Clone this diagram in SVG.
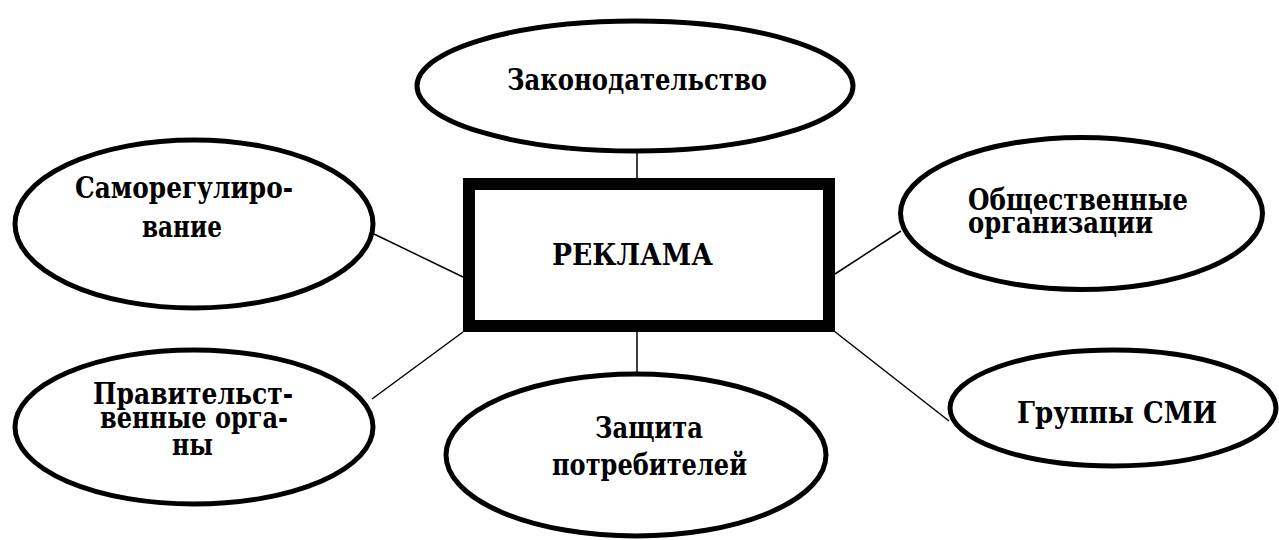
<svg xmlns="http://www.w3.org/2000/svg" width="1279" height="540" viewBox="0 0 1279 540">
<style>
.ell{fill:#fff;stroke:#000;stroke-width:5}
.box{fill:#fff;stroke:#000;stroke-width:12}
.con{stroke:#000;stroke-width:1.5;fill:none}
.t{font-family:"DejaVu Serif","Liberation Serif",serif;font-weight:700;font-size:29px;fill:#000}
.c{text-anchor:middle}
</style>
<rect width="1279" height="540" fill="#fff"/>
<g id="connectors">
<line class="con" x1="637" y1="152" x2="637" y2="178"/>
<line class="con" x1="637" y1="332" x2="637" y2="374"/>
<line class="con" x1="374" y1="234" x2="463" y2="277"/>
<line class="con" x1="372" y1="399" x2="463" y2="332"/>
<line class="con" x1="835" y1="274" x2="901" y2="231"/>
<line class="con" x1="834" y1="331" x2="949" y2="421"/>
</g>
<g id="n-zakon">
<ellipse class="ell" cx="635" cy="86" rx="218" ry="65"/>
<text class="t c" x="637" y="90" textLength="260" lengthAdjust="spacingAndGlyphs">Законодательство</text>
</g>
<g id="n-samoreg">
<ellipse class="ell" cx="194" cy="224" rx="179" ry="84"/>
<text class="t c" x="184" y="198" textLength="218" lengthAdjust="spacingAndGlyphs">Саморегулиро-</text>
<text class="t c" x="182" y="237" textLength="80" lengthAdjust="spacingAndGlyphs">вание</text>
</g>
<g id="n-obsch">
<ellipse class="ell" cx="1081.5" cy="213.5" rx="181" ry="76"/>
<text class="t" x="968" y="210" textLength="220" lengthAdjust="spacingAndGlyphs">Общественные</text>
<text class="t" x="968" y="233" textLength="185" lengthAdjust="spacingAndGlyphs">организации</text>
</g>
<g id="n-reklama">
<rect class="box" x="469" y="184" width="360" height="142"/>
<text class="t c" x="632.5" y="265" textLength="161" lengthAdjust="spacingAndGlyphs">РЕКЛАМА</text>
</g>
<g id="n-prav">
<ellipse class="ell" cx="194" cy="427" rx="179" ry="77"/>
<text class="t c" x="193" y="404" textLength="200" lengthAdjust="spacingAndGlyphs">Правительст-</text>
<text class="t c" x="194" y="428" textLength="188" lengthAdjust="spacingAndGlyphs">венные орга-</text>
<text class="t c" x="192.5" y="455" textLength="41" lengthAdjust="spacingAndGlyphs">ны</text>
</g>
<g id="n-zaschita">
<ellipse class="ell" cx="636" cy="455" rx="190" ry="81"/>
<text class="t c" x="649" y="438" textLength="108" lengthAdjust="spacingAndGlyphs">Защита</text>
<text class="t c" x="649.5" y="475" textLength="195" lengthAdjust="spacingAndGlyphs">потребителей</text>
</g>
<g id="n-smi">
<ellipse class="ell" cx="1113" cy="408" rx="163" ry="58"/>
<text class="t c" x="1117" y="423" textLength="200" lengthAdjust="spacingAndGlyphs">Группы СМИ</text>
</g>
</svg>
